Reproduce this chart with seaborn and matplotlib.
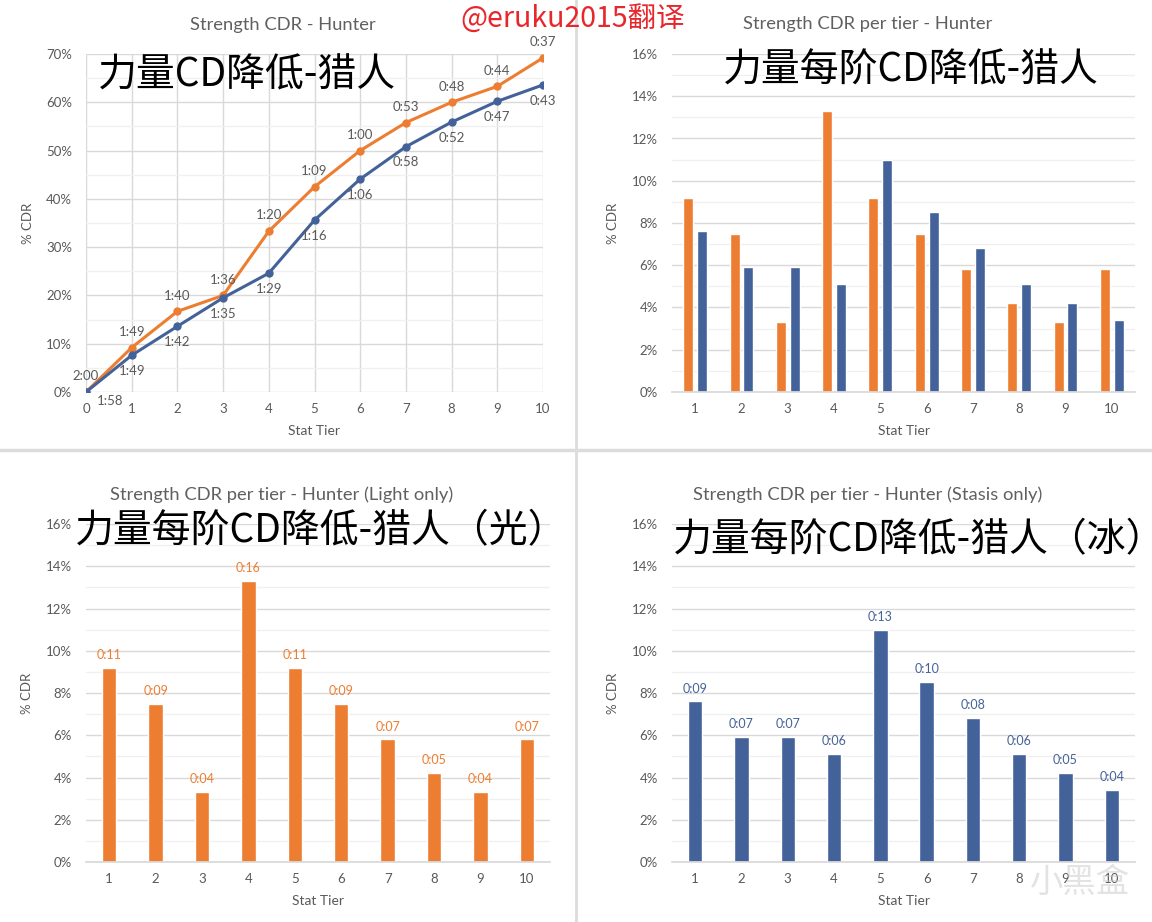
import matplotlib
matplotlib.use("Agg")
import matplotlib.pyplot as plt
import numpy as np
import pandas as pd
import seaborn as sns
from matplotlib.lines import Line2D
from matplotlib.ticker import MultipleLocator, PercentFormatter

ORANGE = "#ed7d31"
BLUE = "#44629a"
GREY = "#595959"
GRID = "#d9d9d9"
MINOR = "#f0f0f0"

# cumulative CDR per stat tier (percent)
tiers = list(range(11))
light_cdr = [0, 9.2, 16.7, 20.0, 33.3, 42.5, 50.0, 55.8, 60.0, 63.3, 69.2]
stasis_cdr = [0, 7.6, 13.6, 19.5, 24.6, 35.6, 44.1, 50.8, 55.9, 60.2, 63.6]
light_times = ["2:00", "1:49", "1:40", "1:36", "1:20", "1:09", "1:00", "0:53", "0:48", "0:44", "0:37"]
stasis_times = ["1:58", "1:49", "1:42", "1:35", "1:29", "1:16", "1:06", "0:58", "0:52", "0:47", "0:43"]

# CDR gained per tier (percent)
step_tiers = [str(i) for i in range(1, 11)]
light_step = [9.2, 7.5, 3.3, 13.3, 9.2, 7.5, 5.8, 4.2, 3.3, 5.8]
stasis_step = [7.6, 5.9, 5.9, 5.1, 11.0, 8.5, 6.8, 5.1, 4.2, 3.4]
light_step_labels = ["0:11", "0:09", "0:04", "0:16", "0:11", "0:09", "0:07", "0:05", "0:04", "0:07"]
stasis_step_labels = ["0:09", "0:07", "0:07", "0:06", "0:13", "0:10", "0:08", "0:06", "0:05", "0:04"]

sns.set_theme(style="white")
plt.rcParams["font.family"] = ["Lato", "Noto Sans CJK SC", "DejaVu Sans"]

W, H = 1152, 922
fig = plt.figure(figsize=(W / 100, H / 100), dpi=100)
fig.patch.set_facecolor("white")


def px_axes(x0, y0, x1, y1):
    return fig.add_axes([x0 / W, 1 - y1 / H, (x1 - x0) / W, (y1 - y0) / H])


def style_axes(ax, ymax, major, minor):
    ax.set_ylim(0, ymax)
    ax.yaxis.set_major_locator(MultipleLocator(major))
    ax.yaxis.set_minor_locator(MultipleLocator(minor))
    ax.yaxis.set_major_formatter(PercentFormatter(decimals=0))
    ax.grid(axis="y", which="major", color=GRID, lw=1)
    ax.grid(axis="y", which="minor", color=MINOR, lw=1)
    ax.set_axisbelow(True)
    for s in ["top", "right", "left"]:
        ax.spines[s].set_visible(False)
    ax.spines["bottom"].set_color(GRID)
    ax.tick_params(axis="both", which="both", length=0, colors=GREY, labelsize=9.5)
    ax.tick_params(axis="y", pad=10)
    ax.tick_params(axis="x", pad=8)
    ax.set_ylabel("% CDR", color=GREY, fontsize=9.5, labelpad=9)
    ax.set_xlabel("Stat Tier", color=GREY, fontsize=10, labelpad=7)


# ---- top left: cumulative line chart ----
ax1 = px_axes(86, 54, 543, 392)
line_df = pd.DataFrame({
    "tier": tiers * 2,
    "cdr": light_cdr + stasis_cdr,
    "class": ["Light"] * 11 + ["Stasis"] * 11,
})
sns.lineplot(data=line_df, x="tier", y="cdr", hue="class", palette=[ORANGE, BLUE],
             marker="o", markersize=6, markeredgewidth=0, linewidth=2.2,
             legend=False, ax=ax1)
style_axes(ax1, 70, 10, 5)
ax1.set_xlim(0, 10)
ax1.xaxis.set_major_locator(MultipleLocator(1))
ax1.grid(axis="x", which="major", color=GRID, lw=1)
ax1.spines["bottom"].set_visible(False)
for t, v, lab in zip(tiers, light_cdr, light_times):
    ax1.annotate(lab, (t, v), xytext=(0, 7), textcoords="offset points",
                 ha="center", va="bottom", fontsize=9.5, color=GREY)
for t, v, lab in zip(tiers, stasis_cdr, stasis_times):
    off = (17, -2) if t == 0 else (0, -7)
    ax1.annotate(lab, (t, v), xytext=off, textcoords="offset points",
                 ha="center", va="top", fontsize=9.5, color=GREY, annotation_clip=False)

# ---- top right: per tier, both ----
ax2 = px_axes(672, 54, 1135, 392)
step_df = pd.DataFrame({
    "tier": step_tiers * 2,
    "cdr": light_step + stasis_step,
    "class": ["Light"] * 10 + ["Stasis"] * 10,
})
sns.barplot(data=step_df, x="tier", y="cdr", hue="class", palette=[ORANGE, BLUE],
            width=0.6, gap=0.28, saturation=1, legend=False, ax=ax2)
style_axes(ax2, 16, 2, 1)
ax2.set_xlim(-0.5, 9.5)

# ---- bottom left: light only ----
ax3 = px_axes(86, 524, 550, 862)
sns.barplot(x=step_tiers, y=light_step, color=ORANGE, width=0.31, saturation=1, ax=ax3)
style_axes(ax3, 16, 2, 1)
ax3.set_xlim(-0.5, 9.5)
ax3.bar_label(ax3.containers[0], labels=light_step_labels, padding=5,
              color=ORANGE, fontsize=9)

# ---- bottom right: stasis only ----
ax4 = px_axes(672, 524, 1135, 862)
sns.barplot(x=step_tiers, y=stasis_step, color=BLUE, width=0.31, saturation=1, ax=ax4)
style_axes(ax4, 16, 2, 1)
ax4.set_xlim(-0.5, 9.5)
ax4.bar_label(ax4.containers[0], labels=stasis_step_labels, padding=5,
              color=BLUE, fontsize=9)

# chart titles
titles = [
    ("Strength CDR - Hunter", 283, 25),
    ("Strength CDR per tier - Hunter", 868, 24),
    ("Strength CDR per tier - Hunter (Light only)", 282, 495),
    ("Strength CDR per tier - Hunter (Stasis only)", 868, 495),
]
for txt, x, y in titles:
    fig.text(x / W, 1 - y / H, txt, ha="center", va="center", fontsize=13.2, color="#606060")

# chinese overlay titles
overlays = [
    ("力量CD降低-猎人", 98, 75),
    ("力量每阶CD降低-猎人", 723, 70),
    ("力量每阶CD降低-猎人（光）", 75, 531),
    ("力量每阶CD降低-猎人（冰）", 673, 540),
]
for txt, x, y in overlays:
    fig.text(x / W, 1 - y / H, txt, ha="left", va="center", fontsize=28,
             color="black", family=["Noto Sans CJK SC", "DejaVu Sans"])

fig.text(573 / W, 1 - 20 / H, "@eruku2015翻译", ha="center", va="center", fontsize=20.5,
         color="#e8262c", family=["Noto Sans CJK SC", "DejaVu Sans"])
fig.text(1080 / W, 1 - 882 / H, "小黑盒", ha="center", va="center", fontsize=24,
         color="#c8c8c8", alpha=0.5, family=["Noto Sans CJK SC", "DejaVu Sans"])

# panel separators
fig.add_artist(Line2D([576 / W, 576 / W], [0, 1], color="#dcdcdc", lw=2))
fig.add_artist(Line2D([0, 1], [1 - 450 / H, 1 - 450 / H], color="#dcdcdc", lw=2.5))

fig.savefig("out.png", dpi=100)
